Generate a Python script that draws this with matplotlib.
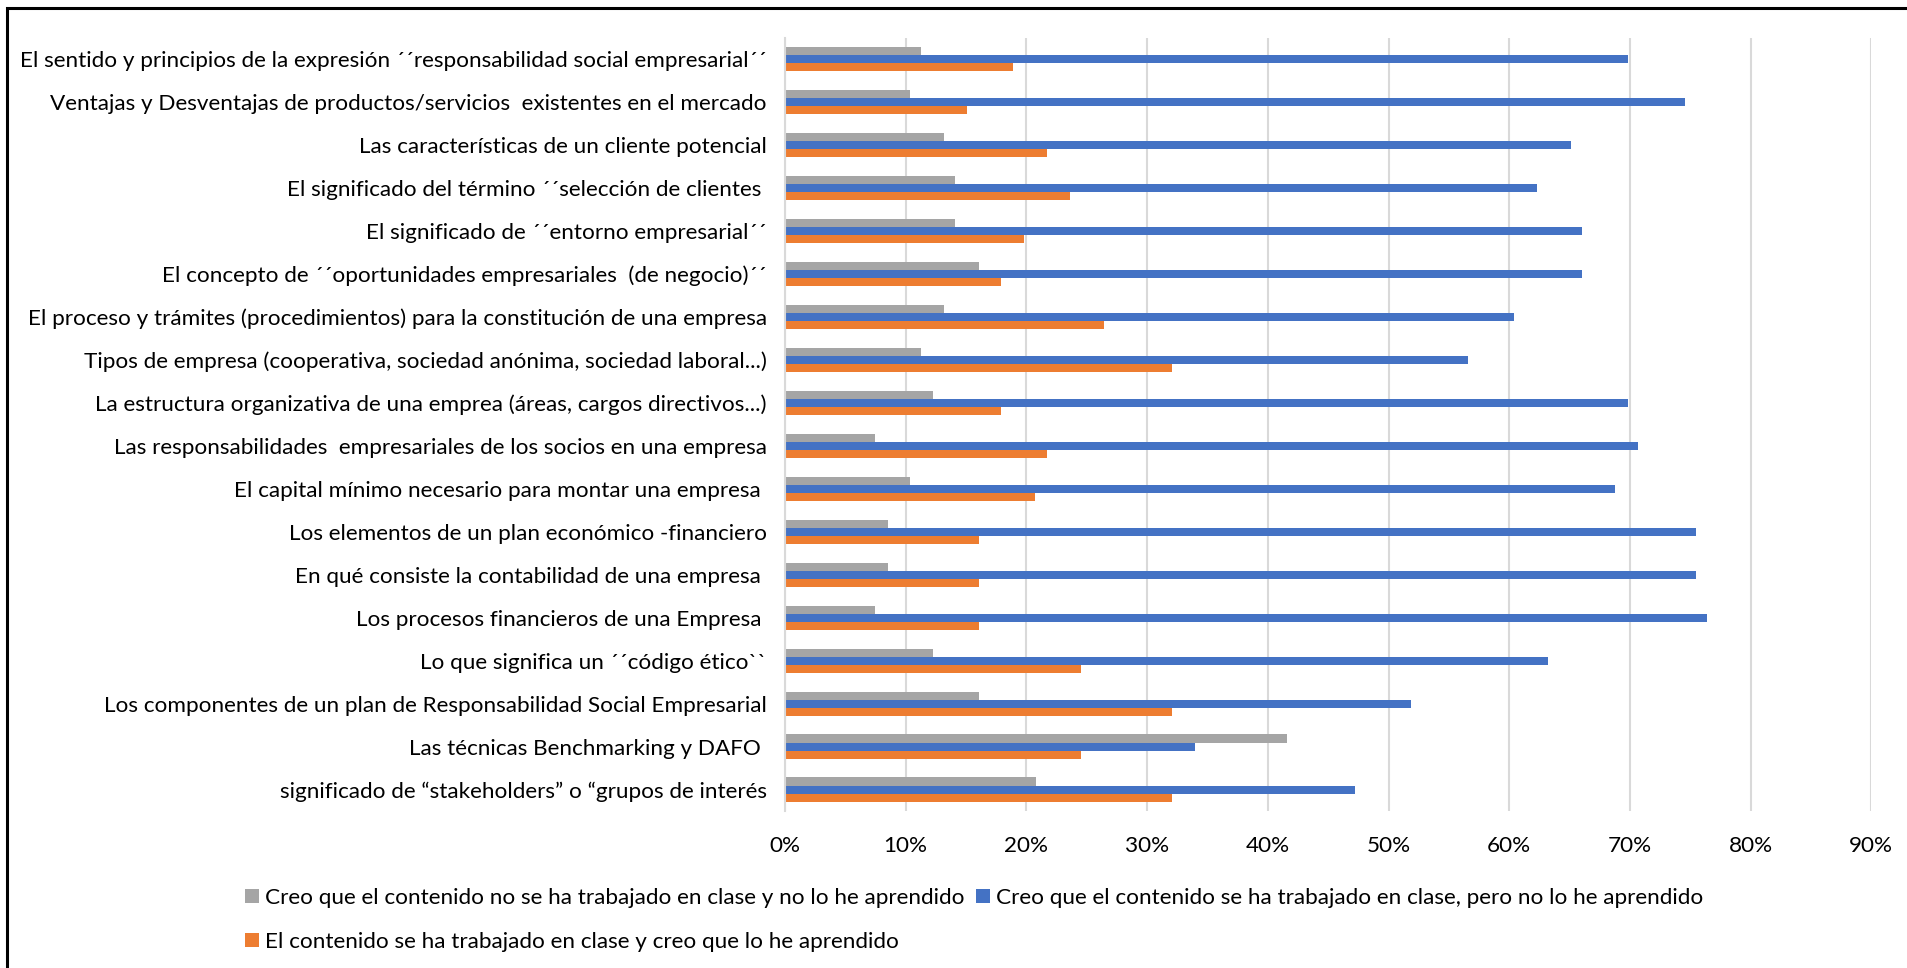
import numpy as np
import matplotlib
matplotlib.use('Agg')
import matplotlib.pyplot as plt
from matplotlib.patches import Rectangle
from matplotlib.ticker import PercentFormatter

plt.rcParams['font.family'] = ['Lato', 'DejaVu Sans']

# ------------------------------------------------------------------
categories = [
    'El sentido y principios de la expresión ´´responsabilidad social empresarial´´',
    'Ventajas y Desventajas de productos/servicios  existentes en el mercado',
    'Las características de un cliente potencial',
    'El significado del término ´´selección de clientes ',
    'El significado de ´´entorno empresarial´´',
    'El concepto de ´´oportunidades empresariales  (de negocio)´´',
    'El proceso y trámites (procedimientos) para la constitución de una empresa',
    'Tipos de empresa (cooperativa, sociedad anónima, sociedad laboral...)',
    'La estructura organizativa de una emprea (áreas, cargos directivos...)',
    'Las responsabilidades  empresariales de los socios en una empresa',
    'El capital mínimo necesario para montar una empresa ',
    'Los elementos de un plan económico -financiero',
    'En qué consiste la contabilidad de una empresa ',
    'Los procesos financieros de una Empresa ',
    'Lo que significa un ´´código ético``',
    'Los componentes de un plan de Responsabilidad Social Empresarial',
    'Las técnicas Benchmarking y DAFO ',
    'significado de “stakeholders” o “grupos de interés',
]

no_trabajado = [11.3, 10.4, 13.2, 14.1, 14.1, 16.1, 13.2, 11.3, 12.3, 7.5,
                10.4, 8.5, 8.5, 7.5, 12.3, 16.1, 41.6, 20.8]
no_aprendido = [69.8, 74.6, 65.1, 62.3, 66.0, 66.0, 60.4, 56.6, 69.8, 70.7,
                68.8, 75.5, 75.5, 76.4, 63.2, 51.9, 34.0, 47.2]
aprendido = [18.9, 15.1, 21.7, 23.6, 19.8, 17.9, 26.4, 32.1, 17.9, 21.7,
             20.7, 16.1, 16.1, 16.1, 24.5, 32.1, 24.5, 32.1]

series_names = [
    'Creo que el contenido no se ha trabajado en clase y no lo he aprendido',
    'Creo que el contenido se ha trabajado en clase, pero no lo he aprendido',
    'El contenido se ha trabajado en clase y creo que lo he aprendido',
]
colors = ['#A5A5A5', '#4472C4', '#ED7D31']
# ------------------------------------------------------------------

fs = 16.2
fig = plt.figure(figsize=(19.08, 9.68), dpi=100)
ax = fig.add_axes([0.4114, 0.162, 0.5694, 0.799])

y = np.arange(len(categories))
h = 0.19
b_gray = ax.barh(y - h, no_trabajado, height=h, color=colors[0])
b_blue = ax.barh(y, no_aprendido, height=h, color=colors[1])
b_orange = ax.barh(y + h, aprendido, height=h, color=colors[2])

ax.set_ylim(len(categories) - 0.5, -0.5)
ax.set_xlim(0, 90)
ax.set_xticks(np.arange(0, 91, 10))
ax.xaxis.set_major_formatter(PercentFormatter(decimals=0))
ax.set_yticks(y)
ax.set_yticklabels(categories)
ax.tick_params(axis='both', length=0, labelsize=fs, colors='#000000')
ax.tick_params(axis='x', pad=18)
ax.tick_params(axis='y', pad=13)
ax.grid(axis='x', color='#D9D9D9', linewidth=1.5)
ax.set_axisbelow(True)
for s in ['top', 'right', 'bottom']:
    ax.spines[s].set_visible(False)
ax.spines['left'].set_color('#D9D9D9')
ax.spines['left'].set_linewidth(1.5)

# legend: gray, blue on first row, orange on second
fig.legend([b_gray, b_orange, b_blue],
           [series_names[0], series_names[2], series_names[1]],
           ncol=2, loc='upper left', bbox_to_anchor=(0.1285, 0.083),
           frameon=False, fontsize=fs, handlelength=0.6, handleheight=0.6,
           handletextpad=0.3, columnspacing=0.5, labelspacing=1.08,
           borderpad=0, borderaxespad=0)

# outer frame
fig.patches.append(Rectangle((0.0037, -0.1), 1.2, 1.092, transform=fig.transFigure,
                             fill=False, edgecolor='black', linewidth=2.2))

fig.savefig('out.png', dpi=100)
